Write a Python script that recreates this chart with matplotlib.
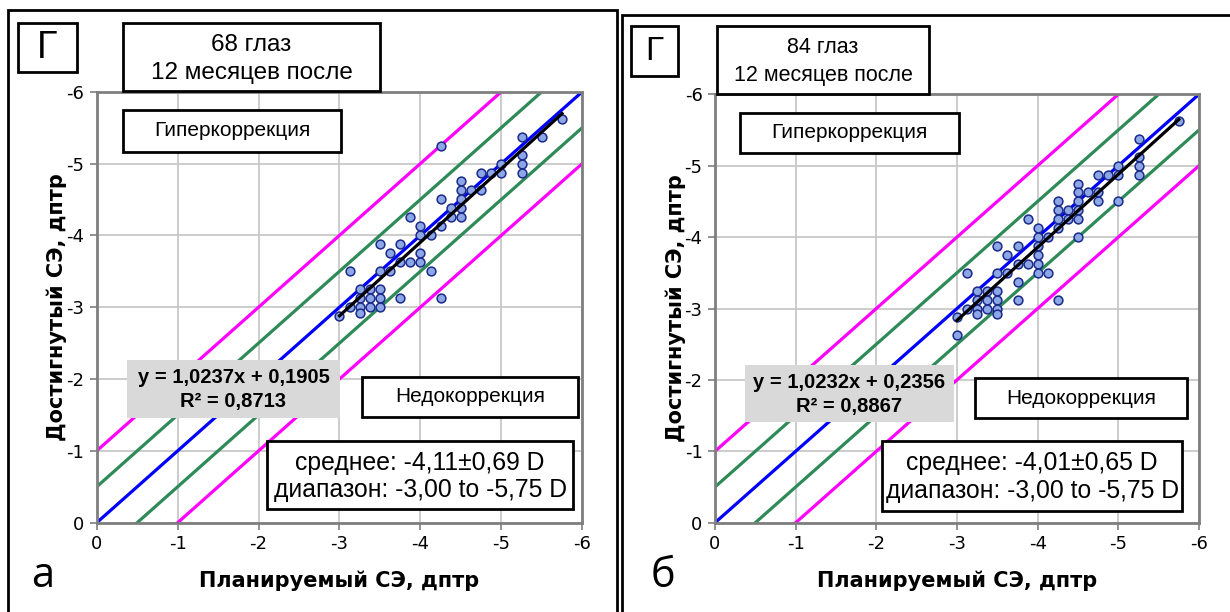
import matplotlib
matplotlib.use("Agg")
import matplotlib.pyplot as plt
from matplotlib.patches import Rectangle
import numpy as np

# ---------------- data ----------------
planned_a = [-4.25, -5.25, -5.5, -5.75, -5.25, -5.25, -5.25, -5.0, -5.0, -4.875,
             -4.75, -4.75, -4.625, -4.5, -4.5, -4.5, -4.5, -4.5, -4.375, -4.375,
             -4.25, -4.25, -4.0, -3.875, -4.0, -4.125, -4.0, -4.0, -3.875, -3.75,
             -3.75, -3.625, -3.625, -3.5, -3.5, -4.125, -3.125, -3.25, -3.375, -3.5,
             -3.25, -3.375, -3.5, -3.75, -4.25, -3.125, -3.25, -3.25, -3.375, -3.5,
             -3.0]
achieved_a = [-5.25, -5.375, -5.375, -5.625, -5.125, -5.0, -4.875, -5.0, -4.875, -4.875,
              -4.875, -4.625, -4.625, -4.75, -4.625, -4.5, -4.375, -4.25, -4.375, -4.25,
              -4.5, -4.125, -4.125, -4.25, -4.0, -4.0, -3.75, -3.625, -3.625, -3.625,
              -3.875, -3.75, -3.5, -3.875, -3.5, -3.5, -3.5, -3.25, -3.25, -3.25,
              -3.125, -3.125, -3.125, -3.125, -3.125, -3.0, -3.0, -2.92, -3.0, -3.0,
              -2.875]

planned_b = [-5.75, -5.25, -5.25, -5.25, -5.25, -5.0, -5.0, -5.0, -4.875, -4.75,
             -4.75, -4.75, -4.625, -4.5, -4.5, -4.5, -4.5, -4.5, -4.5, -4.375,
             -4.375, -4.25, -4.25, -4.25, -4.25, -4.25, -4.125, -4.0, -4.0, -4.0,
             -4.0, -4.0, -4.0, -4.125, -3.875, -3.875, -3.75, -3.75, -3.75, -3.75,
             -3.625, -3.625, -3.5, -3.5, -3.5, -3.5, -3.5, -3.5, -3.375, -3.375,
             -3.375, -3.25, -3.25, -3.25, -3.25, -3.125, -3.125, -3.0, -3.0]
achieved_b = [-5.625, -5.375, -5.125, -5.0, -4.875, -5.0, -4.875, -4.5, -4.875, -4.875,
              -4.625, -4.5, -4.625, -4.75, -4.625, -4.5, -4.375, -4.25, -4.0, -4.375,
              -4.25, -4.5, -4.375, -4.25, -4.125, -3.125, -4.0, -4.125, -4.0, -3.875,
              -3.75, -3.625, -3.5, -3.5, -4.25, -3.625, -3.875, -3.625, -3.375, -3.125,
              -3.75, -3.5, -3.875, -3.5, -3.25, -3.125, -3.0, -2.92, -3.25, -3.125,
              -3.0, -3.25, -3.125, -3.0, -2.92, -3.5, -3.0, -2.875, -2.625]

slope_a, intercept_a, r2_a = 1.0237, 0.1905, 0.8713
slope_b, intercept_b, r2_b = 1.0232, 0.2356, 0.8867

eyes = ["68 глаз", "84 глаз"]
period = "12 месяцев после"
stats = [("-4,11±0,69 D", "-3,00 to -5,75 D"), ("-4,01±0,65 D", "-3,00 to -5,75 D")]
panel_letters = ["а", "б"]
ticks = [0, -1, -2, -3, -4, -5, -6]
offsets = [-1.0, -0.5, 0.0, 0.5, 1.0]
offset_colors = ["#ff00ff", "#2e8b57", "#0000ff", "#2e8b57", "#ff00ff"]

# ---------------- figure ----------------
W, H = 1230, 612
fig = plt.figure(figsize=(W / 100, H / 100), dpi=100)
fig.patch.set_facecolor("white")


def fx(x):
    return x / W


def fy(y):
    return 1 - y / H


def box(x0, y0, x1, y1, lines, size, weight="normal", fc="white", ec="black",
        lw=2.0, family="Liberation Sans", pos=None):
    fig.patches.append(Rectangle((fx(x0), fy(y1)), fx(x1) - fx(x0), fy(y0) - fy(y1),
                                 transform=fig.transFigure, facecolor=fc,
                                 edgecolor=ec if ec else "none", linewidth=lw,
                                 zorder=5))
    n = len(lines)
    hgt = y1 - y0
    if pos is None:
        pos = [(i + 0.5) / n for i in range(n)]
    for t, r in zip(lines, pos):
        cy = y0 + hgt * r
        fig.text(fx((x0 + x1) / 2), fy(cy), t, ha="center", va="center",
                 fontsize=size, fontweight=weight, family=family, zorder=6)


def frame(x0, y0, x1, y1):
    fig.patches.append(Rectangle((fx(x0), fy(y1)), fx(x1) - fx(x0), fy(y0) - fy(y1),
                                 transform=fig.transFigure, facecolor="none",
                                 edgecolor="black", linewidth=2.0, zorder=1))


frame(8, 10, 617, 640)
frame(622, 15, 1240, 640)

panels = [
    dict(ax=(96.7, 91.7, 582.3, 522.7), px=planned_a, py=achieved_a,
         fit=(slope_a, intercept_a, r2_a),
         g=(18, 23, 77, 72), gsize=27, title=(123, 23, 380, 91), tsize=17.5,
         hyper=(123, 110, 341, 152),
         eq=(127, 360, 340, 418), under=(362, 377, 578, 417), st=(267, 441, 573, 509),
         letter=(43, 576), ylab=57),
    dict(ax=(715, 94.3, 1199, 522.7), px=planned_b, py=achieved_b,
         fit=(slope_b, intercept_b, r2_b),
         g=(631, 26, 678, 76), gsize=24, title=(717, 26, 929, 94), tsize=15.5,
         hyper=(740, 113, 959, 153),
         eq=(745, 365, 954, 422), under=(975, 378, 1187, 418), st=(882, 441, 1182, 511),
         letter=(663, 576), ylab=676),
]

for i, p in enumerate(panels):
    x0, y0, x1, y1 = p["ax"]
    ax = fig.add_axes([fx(x0), fy(y1), fx(x1) - fx(x0), fy(y0) - fy(y1)])
    ax.set_xlim(0, -6)
    ax.set_ylim(0, -6)
    ax.set_xticks(ticks)
    ax.set_yticks(ticks)
    ax.set_xticklabels([str(t) for t in ticks], family="DejaVu Sans", fontsize=13)
    ax.set_yticklabels([str(t) for t in ticks], family="DejaVu Sans", fontsize=13)
    ax.grid(True, color="#c8c8c8", linewidth=1.3)
    ax.set_axisbelow(True)
    for s in ax.spines.values():
        s.set_color("#7f7f7f")
        s.set_linewidth(2.0)
    ax.tick_params(direction="out", length=5, width=1.2, color="#7f7f7f", pad=4)

    xx = np.array([0.5, -6.5])
    for d, c in zip(offsets, offset_colors):
        ax.plot(xx, xx + d, color=c, linewidth=2.3, zorder=2, solid_capstyle="butt")

    ax.scatter(p["px"], p["py"], s=40, facecolor="#8da6e6", edgecolor="#1a2a8a",
               linewidth=1.1, zorder=3)
    sl, ic, r2 = p["fit"]
    tx = np.array([max(p["px"]), min(p["px"])])
    ax.plot(tx, sl * tx + ic, color="black", linewidth=2.3, zorder=4)

    fig.text(fx((x0 + x1) / 2), fy(581), "Планируемый СЭ, дптр", ha="center",
             va="center", fontsize=15, fontweight="bold", family="DejaVu Sans")
    fig.text(fx(p["ylab"]), fy((y0 + y1) / 2), "Достигнутый СЭ, дптр", ha="center",
             va="center", rotation=90, fontsize=15, fontweight="bold",
             family="DejaVu Sans")

    box(*p["g"], ["Г"], p["gsize"])
    box(*p["title"], [eyes[i], period], p["tsize"], pos=[0.32, 0.73])
    box(*p["hyper"], ["Гиперкоррекция"], 15)
    box(*p["eq"], ["y = {}x + {}".format(f"{sl:.4f}".replace(".", ","),
                                         f"{ic:.4f}".replace(".", ",")),
                   "R² = {}".format(f"{r2:.4f}".replace(".", ","))],
        14.5, weight="bold", fc="#d9d9d9", ec=None, lw=0, pos=[0.3, 0.72])
    box(*p["under"], ["Недокоррекция"], 15)
    box(*p["st"], ["среднее: " + stats[i][0], "диапазон: " + stats[i][1]], 17.8,
        pos=[0.32, 0.72])
    fig.text(fx(p["letter"][0]), fy(p["letter"][1]), panel_letters[i], ha="center",
             va="center", fontsize=30, family="Open Sans")

fig.savefig("out.png", dpi=100)
